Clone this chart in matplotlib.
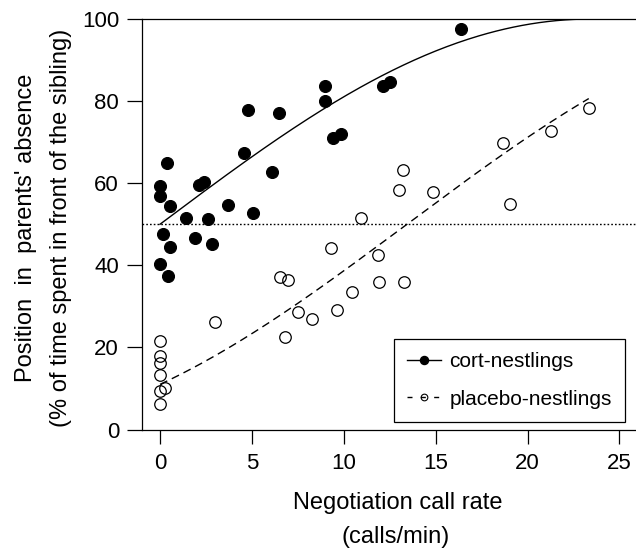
import numpy as np
import matplotlib
matplotlib.use("Agg")
import matplotlib.pyplot as plt
from matplotlib.lines import Line2D

# ---- data ----
cort_x = [0.0, 0.0, 0.40, 0.54, 1.42, 0.18, 0.54, 1.89, 2.83, 2.61, 2.14, 2.37, 3.68,
          4.55, 4.77, 5.06, 6.12, 6.50, 8.99, 8.99, 9.42, 9.84, 12.11, 12.53, 16.36,
          0.0, 0.41]
cort_y = [59.3, 57.0, 64.8, 54.4, 51.6, 47.6, 44.4, 46.6, 45.3, 51.2, 59.6, 60.4, 54.7,
          67.4, 77.9, 52.7, 62.7, 77.0, 83.6, 80.1, 71.0, 72.0, 83.8, 84.7, 97.5,
          40.3, 37.4]

placebo_x = [0.0, 0.0, 0.0, 0.0, 0.0, 0.29, 0.0, 3.0, 6.55, 6.99, 6.79, 7.52, 8.26,
             9.31, 9.64, 10.47, 11.87, 11.91, 10.91, 13.20, 13.0, 14.85, 19.06, 18.64,
             21.30, 23.33, 13.25]
placebo_y = [21.5, 17.9, 16.3, 13.2, 9.5, 10.2, 6.1, 26.2, 37.2, 36.4, 22.6, 28.6, 26.9,
             44.1, 29.0, 33.6, 42.4, 36.0, 51.5, 63.3, 58.3, 57.8, 55.0, 69.8,
             72.7, 78.4, 35.9]

# fitted lines on the arcsine-square-root scale: (intercept, slope)
cort_fit = (0.7854, 0.0335)
placebo_fit = (0.338, 0.0333)

x_ticks = [0, 5, 10, 15, 20, 25]
y_ticks = [0, 20, 40, 60, 80, 100]
reference_level = 50
legend_labels = ["cort-nestlings", "placebo-nestlings"]
xlabel_lines = ["Negotiation call rate", "(calls/min)"]
ylabel_lines = ["Position  in  parents' absence", "(% of time spent in front of the sibling)"]

# ---- drawing ----
plt.rcParams['font.family'] = ['Liberation Sans', 'DejaVu Sans']

W, H = 636, 549
fig = plt.figure(figsize=(W / 100, H / 100), dpi=100)
L, R, B, T = 142, 636, 429.5, 19
ax = fig.add_axes([L / W, 1 - B / H, (R - L) / W, (B - T) / H])
ax.set_xlim(-0.98, 25.9)
ax.set_ylim(0, 100)

xmax = max(max(cort_x), max(placebo_x))
xs = np.linspace(0, xmax, 200)


def back_transform(fit, x):
    a, b = fit
    ang = np.clip(a + b * x, 0, np.pi / 2)
    return 100 * np.sin(ang) ** 2


ax.axhline(reference_level, color='k', lw=1.0, ls=(0, (1.2, 1.5)), zorder=1)
ax.plot(xs, back_transform(cort_fit, xs), color='k', lw=1.0, zorder=2)
ax.plot(xs, back_transform(placebo_fit, xs), color='k', lw=1.0, ls=(0, (5.8, 3.6)), zorder=2)

ax.plot(cort_x, cort_y, ls='none', marker='o', ms=8.6, mfc='k', mec='k', mew=0.8, zorder=3)
ax.plot(placebo_x, placebo_y, ls='none', marker='o', ms=8.3, mfc='none', mec='k', mew=0.9, zorder=3)

ax.spines['right'].set_visible(False)
for s in ['top', 'left', 'bottom']:
    ax.spines[s].set_linewidth(0.9)

ax.set_xticks(x_ticks)
ax.set_yticks(y_ticks)
ax.tick_params(axis='x', length=10, width=0.9, pad=7, labelsize=16)
ax.tick_params(axis='y', length=10.5, width=0.9, pad=6, labelsize=16)

handles = [
    Line2D([], [], color='k', lw=1.0, marker='o', ms=5.8, mfc='k', mec='k'),
    Line2D([], [], color='k', lw=1.0, ls=(0, (3.6, 6)), marker='o', ms=4.8, mfc='none', mec='k', mew=0.8),
]
leg = ax.legend(handles, legend_labels, loc='upper left',
                bbox_to_anchor=(394 / W, 1 - 339 / H), bbox_transform=fig.transFigure,
                borderaxespad=0, fontsize=15, handlelength=1.63, handletextpad=0.4,
                borderpad=0.62, labelspacing=0.9, frameon=True, fancybox=False,
                edgecolor='k', framealpha=1)
leg.get_frame().set_linewidth(0.9)

fig.text(398 / W, 1 - 509 / H, xlabel_lines[0], ha='center', va='baseline', fontsize=17)
fig.text(396 / W, 1 - 543 / H, xlabel_lines[1], ha='center', va='baseline', fontsize=17)
fig.text(31.7 / W, 1 - 227.5 / H, ylabel_lines[0], rotation=90, rotation_mode='anchor',
         ha='center', va='baseline', fontsize=17)
fig.text(67.5 / W, 1 - 227.5 / H, ylabel_lines[1], rotation=90, rotation_mode='anchor',
         ha='center', va='baseline', fontsize=17)

fig.savefig('out.png', dpi=100)
